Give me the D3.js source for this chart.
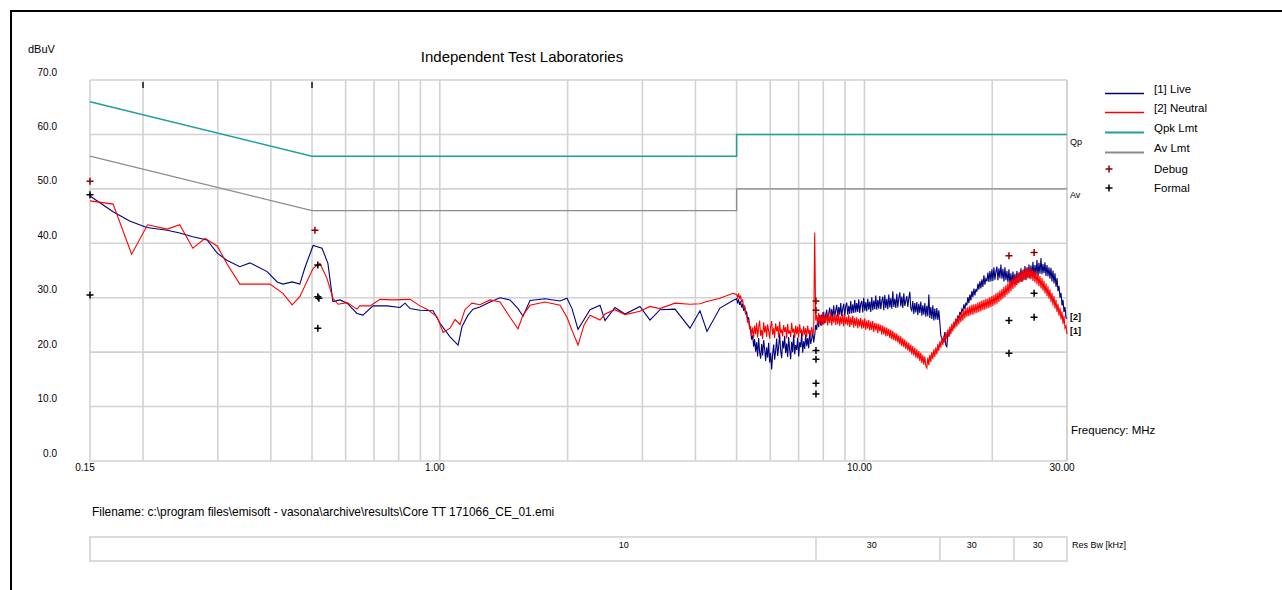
<!DOCTYPE html>
<html><head><meta charset="utf-8">
<script src="https://cdn.jsdelivr.net/npm/d3@7/dist/d3.min.js"></script>
<style>
body{margin:0;background:#fff;overflow:hidden;}
svg{display:block;font-family:"Liberation Sans",Arial,sans-serif;}
</style></head><body>
<svg id="c" width="1282" height="590"></svg>
<script>
// ---------- data ----------
const yTicks = [0, 10, 20, 30, 40, 50, 60, 70];
const yTickLabels = ["0.0", "10.0", "20.0", "30.0", "40.0", "50.0", "60.0", "70.0"];
const xTickValues = [0.15, 1, 10, 30];
const xTickLabels = ["0.15", "1.00", "10.00", "30.00"];
const topMarkFreq = [0.2, 0.5];

const qpkFreq = [0.15, 0.5, 5, 5, 30];
const qpkDb   = [66, 56, 56, 60, 60];
const avFreq  = [0.15, 0.5, 5, 5, 30];
const avDb    = [56, 46, 46, 50, 50];

// Live (low band, explicit points)
const liveLowFreq = [0.15, 0.170, 0.186, 0.204, 0.228, 0.244, 0.262, 0.283, 0.299, 0.315, 0.338, 0.357, 0.392, 0.414, 0.427, 0.449, 0.468, 0.481, 0.503, 0.528, 0.545, 0.560, 0.582, 0.605, 0.638, 0.659, 0.696, 0.751, 0.806, 0.828, 0.851, 0.898, 0.964, 1.001, 1.057, 1.104, 1.128, 1.165, 1.197, 1.243,
  1.313, 1.386, 1.463, 1.528, 1.570, 1.631, 1.769, 1.919, 1.993, 2.048, 2.116, 2.186, 2.258, 2.384, 2.449, 2.585, 2.730, 2.960, 3.126, 3.300, 3.580, 3.883, 4.100, 4.258, 4.568, 4.903];
const liveLowDb = [48.7, 45.8, 44.1, 42.9, 42.4, 41.9, 41.2, 40.6, 38.2, 36.9, 35.7, 36.4, 34.8, 32.9, 32.5, 32.9, 32.5, 35.5, 39.6, 39.1, 36.3, 29.3, 29.6, 29.0, 27.1, 26.8, 28.5, 28.5, 28.2, 29.0, 28.0, 27.7, 27.6, 25.3, 22.8, 21.3, 24.7, 26.8, 27.9, 28.3,
  29.2, 30.0, 29.6, 28.0, 26.6, 29.5, 29.8, 29.4, 29.9, 28.0, 24.2, 26.0, 27.8, 28.6, 25.8, 28.2, 27.0, 28.4, 25.9, 27.8, 27.9, 24.4, 27.6, 23.8, 28.1, 29.5];

// Neutral (low band, explicit points)
const neutralLowFreq = [0.15, 0.170, 0.188, 0.205, 0.228, 0.244, 0.262, 0.280, 0.299, 0.315, 0.338, 0.398, 0.427, 0.449, 0.468, 0.503, 0.522, 0.542, 0.560, 0.576, 0.605, 0.638, 0.648, 0.685, 0.723, 0.776, 0.851, 0.898, 0.933, 0.985, 1.018, 1.057, 1.086, 1.116, 1.146, 1.190, 1.243,
  1.313, 1.386, 1.463, 1.528, 1.570, 1.631, 1.769, 1.919, 1.993, 2.048, 2.116, 2.186, 2.258, 2.384, 2.449, 2.585, 2.730, 2.960, 3.126, 3.300, 3.580, 3.883, 4.100, 4.258, 4.568, 4.903];
const neutralLowDb = [47.8, 47.2, 38.0, 43.4, 42.6, 43.4, 39.1, 40.9, 39.5, 36.3, 32.5, 32.5, 30.8, 28.7, 30.2, 35.4, 36.3, 33.6, 29.9, 28.8, 29.1, 27.9, 28.5, 28.5, 29.7, 29.6, 29.7, 28.5, 27.9, 26.5, 23.6, 24.4, 26.0, 25.1, 27.8, 29.0, 28.7,
  29.6, 29.2, 26.4, 24.3, 26.8, 28.6, 29.2, 28.6, 26.4, 24.0, 21.3, 25.0, 26.8, 25.9, 27.0, 27.8, 26.9, 27.5, 28.4, 28.0, 29.0, 28.8, 28.9, 29.3, 29.9, 30.8];

// High band sweep 5 MHz -> 30 MHz, log-spaced points
const sweepStartMHz = 5;
const sweepStopMHz = 30;
const liveSweepDb = [
  29.8, 29.1, 29.6, 28.7, 29.3, 28.2, 28.9, 27.6, 28.4, 27.0,
  27.5, 25.9, 26.4, 24.6, 24.0, 22.3, 23.1, 21.0, 22.4, 20.1,
  21.8, 19.2, 22.6, 20.0, 18.8, 21.5, 19.4, 22.2, 20.6, 18.4,
  20.9, 19.0, 21.7, 18.1, 19.9, 16.8, 19.6, 21.4, 18.6, 20.3,
  22.5, 19.3, 21.0, 23.4, 20.2, 18.9, 22.1, 20.7, 23.0, 19.8,
  21.6, 19.1, 22.8, 20.5, 18.7, 21.9, 20.0, 23.2, 19.6, 21.3,
  20.4, 22.7, 19.2, 21.8, 20.9, 23.5, 19.9, 22.0, 20.6, 23.3,
  21.1, 22.6, 20.7, 23.8, 21.5, 22.4, 23.9, 21.8, 23.1, 25.0,
  24.1, 26.2, 24.6, 26.8, 24.9, 26.9, 25.1, 27.4, 25.3, 26.8,
  27.8, 25.7, 27.1, 28.2, 26.0, 27.9, 26.2, 28.6, 26.5, 27.7,
  28.7, 26.5, 28.3, 26.9, 29.0, 26.6, 28.0, 28.9, 26.7, 28.4,
  29.1, 26.9, 28.5, 27.0, 29.4, 27.1, 28.8, 27.2, 29.6, 27.3,
  29.0, 27.4, 29.7, 27.2, 28.9, 29.4, 27.3, 30.0, 27.6, 29.2,
  27.5, 29.8, 27.8, 29.3, 27.4, 30.1, 27.7, 29.5, 27.9, 30.4,
  27.8, 29.6, 28.0, 30.3, 27.9, 29.4, 30.2, 27.7, 30.5, 28.1,
  29.8, 27.9, 30.6, 28.2, 29.9, 28.0, 31.2, 28.3, 29.8, 28.1,
  30.7, 28.2, 29.9, 31.0, 28.4, 30.2, 28.1, 30.8, 28.5, 29.4,
  30.3, 28.3, 29.9, 31.1, 28.0, 27.6, 29.4, 27.0, 29.0, 27.3,
  29.2, 26.8, 28.9, 27.2, 29.3, 26.7, 28.6, 26.9, 29.0, 26.5,
  28.5, 26.6, 30.6, 26.3, 28.3, 26.1, 28.6, 25.8, 28.0, 26.0,
  28.1, 25.9, 27.7, 25.5, 23.0, 22.6, 22.3, 21.9, 23.7, 21.2,
  21.0, 23.5, 23.0, 23.6, 23.9, 24.6, 24.6, 25.3, 25.2, 26.0,
  25.7, 26.6, 26.3, 27.4, 26.8, 27.9, 27.5, 28.8, 27.9, 29.1,
  28.6, 30.1, 29.0, 30.6, 29.5, 31.2, 30.1, 31.7, 30.4, 31.6,
  31.1, 32.6, 31.5, 33.0, 31.7, 33.4, 32.0, 34.1, 32.4, 33.5,
  33.0, 34.6, 32.9, 34.9, 33.0, 35.2, 33.1, 35.6, 33.3, 34.8,
  35.7, 33.2, 35.4, 33.6, 36.1, 33.5, 35.3, 33.0, 35.6, 33.2,
  34.9, 32.8, 35.2, 32.5, 34.5, 32.3, 34.8, 32.6, 34.4, 32.4,
  34.9, 32.7, 34.6, 33.0, 35.4, 32.9, 35.1, 33.3, 35.8, 33.2,
  35.6, 33.7, 36.1, 33.5, 35.9, 33.9, 36.6, 33.8, 36.0, 34.2,
  36.9, 34.0, 36.4, 34.4, 37.3, 34.3, 36.2, 34.5, 36.5, 34.0,
  36.0, 33.9, 35.6, 33.5, 35.5, 33.0, 35.0, 32.6, 34.5, 32.0,
  33.6, 31.2, 32.2, 30.0, 30.9, 28.6, 29.6, 27.4, 28.3, 26.3,
  26.2];
const neutralSweepDb = [
  30.6, 30.0, 30.8, 29.8, 30.4, 29.2, 29.7, 28.1, 28.6, 27.0,
  26.8, 25.4, 25.9, 24.2, 24.8, 23.1, 24.5, 22.6, 24.9, 23.3,
  25.4, 22.7, 24.6, 25.8, 23.0, 24.1, 22.4, 25.5, 23.6, 24.9,
  22.8, 25.1, 23.9, 22.5, 24.7, 25.7, 23.2, 24.4, 22.6, 25.3,
  23.8, 24.8, 22.7, 25.6, 23.5, 24.2, 22.9, 25.0, 23.7, 24.6,
  22.5, 25.2, 23.4, 24.0, 22.8, 25.4, 23.6, 24.3, 22.6, 24.9,
  23.3, 24.7, 22.7, 25.1, 23.5, 24.0, 22.9, 24.8, 23.2, 24.4,
  22.8, 24.9, 23.4, 24.1, 22.9, 24.6, 23.5, 24.0, 42.0, 25.8,
  26.9, 25.1, 27.2, 25.3, 26.8, 24.8, 27.3, 25.1, 26.7, 25.4,
  27.0, 24.9, 26.9, 25.3, 27.4, 24.9, 26.6, 25.4, 27.1, 25.0,
  26.9, 25.1, 27.2, 24.8, 26.6, 25.2, 27.0, 24.7, 26.8, 25.1,
  26.5, 24.9, 26.9, 24.6, 26.4, 25.0, 26.7, 24.5, 26.3, 24.8,
  26.4, 24.4, 26.1, 24.7, 26.3, 24.3, 26.0, 24.4, 26.2, 24.1,
  25.8, 24.3, 25.9, 24.0, 25.6, 24.1, 25.7, 23.7, 25.4, 24.0,
  25.3, 23.5, 25.2, 23.8, 25.0, 23.2, 24.9, 23.3, 24.6, 22.9,
  24.5, 23.0, 24.3, 22.6, 24.1, 22.4, 23.9, 22.2, 23.6, 22.0,
  23.4, 21.8, 23.1, 21.4, 22.9, 21.1, 22.6, 20.9, 22.3, 20.6,
  22.0, 20.3, 21.7, 20.0, 21.4, 19.6, 21.1, 19.4, 20.8, 19.0,
  20.5, 18.8, 20.2, 18.4, 19.9, 18.0, 19.5, 17.7, 19.2, 17.5,
  17.1, 19.0, 17.6, 19.5, 18.2, 20.0, 18.7, 20.5, 19.1, 20.9,
  19.6, 21.5, 20.2, 22.0, 20.8, 22.6, 21.3, 23.1, 21.8, 23.7,
  22.4, 24.2, 22.8, 24.7, 23.3, 25.2, 23.8, 25.6, 24.3, 26.1,
  24.7, 26.5, 25.1, 27.0, 25.5, 27.4, 25.8, 27.8, 26.2, 28.1,
  26.5, 28.3, 26.6, 28.5, 26.8, 28.7, 26.9, 28.8, 27.1, 28.9,
  27.2, 29.1, 27.4, 29.3, 27.5, 29.5, 27.7, 29.6, 27.8, 29.8,
  28.0, 29.9, 28.1, 30.1, 28.3, 30.3, 28.5, 30.5, 28.7, 30.8,
  28.9, 31.0, 29.2, 31.3, 29.5, 31.6, 29.8, 32.0, 30.1, 32.3,
  30.5, 32.7, 30.8, 33.1, 31.2, 33.4, 31.6, 33.8, 31.9, 34.1,
  32.3, 34.5, 32.6, 34.7, 32.9, 35.0, 33.1, 35.3, 33.3, 35.4,
  33.5, 35.5, 33.6, 35.4, 33.4, 35.2, 33.1, 35.0, 32.8, 34.7,
  32.5, 34.4, 32.1, 34.0, 31.7, 33.6, 31.3, 33.1, 30.8, 32.6,
  30.3, 32.1, 29.8, 31.5, 29.2, 30.9, 28.6, 30.3, 28.0, 29.6,
  27.4, 28.9, 26.7, 28.2, 26.0, 27.5, 25.2, 26.7, 24.4, 24.8,
  23.3];

const debugFreq = [0.15, 0.508, 7.69, 7.69, 21.9, 25.1];
const debugDb   = [51.4, 42.4, 29.4, 27.7, 37.7, 38.3];
const formalFreq = [0.15, 0.15, 0.516, 0.516, 0.519, 0.516, 7.69, 7.69, 7.69, 7.69, 21.9, 21.9, 25.1, 25.1];
const formalDb   = [48.9, 30.5, 36.0, 30.2, 29.9, 24.4, 20.3, 18.7, 14.3, 12.3, 25.8, 19.8, 30.8, 26.4];

const legendNames = ["[1] Live", "[2] Neutral", "Qpk Lmt", "Av Lmt", "Debug", "Formal"];
const rbwEdges = [0.15, 7.69, 15.06, 22.5, 30];
const rbwLabels = ["10", "30", "30", "30"];
const rbwLabelFreq = [2.71, 10.4, 17.9, 25.6];

// ---------- drawing ----------
const C = {live: "#000080", neutral: "#ff0000", qpk: "#219e9e", av: "#8c8c8c", debug: "#8b0000", formal: "#000000", grid: "#d2d2d2"};
const svg = d3.select("#c");
const x = d3.scaleLog().domain([0.15, 30]).range([90, 1067]);
const y = d3.scaleLinear().domain([0, 70]).range([461, 80]);

// outer frame
svg.append("path").attr("d", "M11,600 L11,11 L1290,11").attr("fill", "none").attr("stroke", "#000").attr("stroke-width", 2);

// grid
const gx = [0.15].concat(x.ticks()).concat([30]);
svg.append("g").selectAll("line").data(gx).join("line")
  .attr("x1", d => x(d)).attr("x2", d => x(d)).attr("y1", y(70)).attr("y2", y(0))
  .attr("stroke", C.grid).attr("stroke-width", 1.6);
svg.append("g").selectAll("line").data(yTicks).join("line")
  .attr("x1", x(0.15)).attr("x2", x(30)).attr("y1", d => y(d)).attr("y2", d => y(d))
  .attr("stroke", C.grid).attr("stroke-width", 1.6);
svg.append("g").selectAll("line").data(topMarkFreq).join("line")
  .attr("x1", d => x(d)).attr("x2", d => x(d)).attr("y1", y(70) + 2).attr("y2", y(70) + 8)
  .attr("stroke", "#222").attr("stroke-width", 1.6);

// axes labels
svg.append("g").selectAll("text").data(yTicks).join("text")
  .attr("x", 57).attr("y", d => y(d) - 8).attr("dy", "0.35em").attr("text-anchor", "end")
  .attr("font-size", 10).text((d, i) => yTickLabels[i]);
svg.append("g").selectAll("text").data(xTickValues).join("text")
  .attr("x", d => x(d) - 5).attr("y", 467).attr("dy", "0.35em").attr("text-anchor", "middle")
  .attr("font-size", 10).text((d, i) => xTickLabels[i]);
svg.append("text").attr("x", 28).attr("y", 49).attr("dy", "0.35em").attr("font-size", 11).text("dBuV");
svg.append("text").attr("x", 522).attr("y", 57).attr("dy", "0.35em").attr("text-anchor", "middle").attr("font-size", 15).text("Independent Test Laboratories");
svg.append("text").attr("x", 1071).attr("y", 430).attr("dy", "0.35em").attr("font-size", 11.5).text("Frequency: MHz");

// limits
const line = d3.line().x(d => x(d[0])).y(d => y(d[1]));
svg.append("path").datum(qpkFreq.map((f, i) => [f, qpkDb[i]])).attr("d", line)
  .attr("fill", "none").attr("stroke", C.qpk).attr("stroke-width", 1.5);
svg.append("path").datum(avFreq.map((f, i) => [f, avDb[i]])).attr("d", line)
  .attr("fill", "none").attr("stroke", C.av).attr("stroke-width", 1.3);
svg.append("text").attr("x", 1070).attr("y", y(qpkDb[4]) + 7).attr("dy", "0.35em").attr("font-size", 9).text("Qp");
svg.append("text").attr("x", 1070).attr("y", y(avDb[4]) + 6).attr("dy", "0.35em").attr("font-size", 9).text("Av");

// traces
const nS = liveSweepDb.length;
const sweepFreq = d3.range(nS).map(i => sweepStartMHz * Math.pow(sweepStopMHz / sweepStartMHz, i / (nS - 1)));
const liveData = liveLowFreq.map((f, i) => [f, liveLowDb[i]]).concat(sweepFreq.map((f, i) => [f, liveSweepDb[i]]));
const neutralData = neutralLowFreq.map((f, i) => [f, neutralLowDb[i]]).concat(sweepFreq.map((f, i) => [f, neutralSweepDb[i]]));
svg.append("path").datum(liveData).attr("d", line).attr("fill", "none").attr("stroke", C.live).attr("stroke-width", 1.1);
svg.append("path").datum(neutralData).attr("d", line).attr("fill", "none").attr("stroke", C.neutral).attr("stroke-width", 1.1);

svg.append("text").attr("x", 1070).attr("y", 317).attr("dy", "0.35em").attr("font-size", 9).attr("font-weight", "bold").text("[2]");
svg.append("text").attr("x", 1070).attr("y", 331).attr("dy", "0.35em").attr("font-size", 9).attr("font-weight", "bold").text("[1]");

// markers
function plus(g, px, py, col) {
  g.append("path").attr("d", `M${px - 3.5},${py} H${px + 3.5} M${px},${py - 3.5} V${py + 3.5}`)
    .attr("stroke", col).attr("stroke-width", 1.5).attr("fill", "none");
}
const mk = svg.append("g");
formalFreq.forEach((f, i) => plus(mk, x(f), y(formalDb[i]), C.formal));
debugFreq.forEach((f, i) => plus(mk, x(f), y(debugDb[i]), C.debug));

// legend
const lg = svg.append("g");
const lgY = [89, 108, 128, 148, 169, 188];
const lgCol = [C.live, C.neutral, C.qpk, C.av];
lgCol.forEach((c, i) => lg.append("line").attr("x1", 1105).attr("x2", 1144).attr("y1", lgY[i] + 4.5).attr("y2", lgY[i] + 4.5)
  .attr("stroke", c).attr("stroke-width", i < 2 ? 1.5 : 1.8));
plus(lg, 1109, lgY[4], C.debug);
plus(lg, 1109, lgY[5], C.formal);
lg.selectAll("text").data(legendNames).join("text")
  .attr("x", 1154).attr("y", (d, i) => lgY[i]).attr("dy", "0.35em").attr("font-size", 11.5).text(d => d);

// filename
svg.append("text").attr("x", 92).attr("y", 512).attr("dy", "0.35em").attr("font-size", 11.9)
  .text("Filename: c:\\program files\\emisoft - vasona\\archive\\results\\Core TT 171066_CE_01.emi");

// RBW table
const tb = svg.append("g");
tb.append("rect").attr("x", x(rbwEdges[0])).attr("y", 537).attr("width", x(30) - x(0.15)).attr("height", 24)
  .attr("fill", "none").attr("stroke", C.grid).attr("stroke-width", 1.6);
tb.selectAll("line").data(rbwEdges.slice(1, -1)).join("line")
  .attr("x1", d => x(d)).attr("x2", d => x(d)).attr("y1", 537).attr("y2", 561).attr("stroke", C.grid).attr("stroke-width", 1.6);
tb.selectAll("text").data(rbwLabels).join("text")
  .attr("x", (d, i) => x(rbwLabelFreq[i])).attr("y", 545).attr("dy", "0.35em").attr("text-anchor", "middle")
  .attr("font-size", 9).text(d => d);
tb.append("text").attr("x", 1072).attr("y", 545).attr("dy", "0.35em").attr("font-size", 9).text("Res Bw [kHz]");
</script>
</body></html>
